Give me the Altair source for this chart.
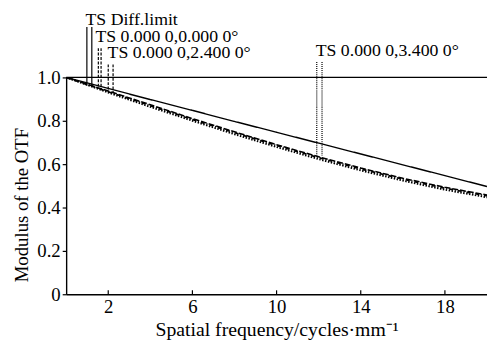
import altair as alt
import pandas as pd

# ---- data ----
freq = [0, 2, 4, 6, 8, 10, 12, 14, 16, 18, 20]
diff_limit = [1.0, 0.949, 0.898, 0.848, 0.797, 0.747, 0.697, 0.647, 0.597, 0.547, 0.497]
field_0 = [1.0, 0.937, 0.874, 0.810, 0.749, 0.690, 0.634, 0.582, 0.535, 0.493, 0.458]
field_24 = [1.0, 0.934, 0.870, 0.806, 0.745, 0.686, 0.630, 0.578, 0.531, 0.489, 0.454]
field_34 = [1.0, 0.930, 0.864, 0.800, 0.738, 0.679, 0.623, 0.571, 0.524, 0.482, 0.447]

series_names = ["TS Diff.limit", "TS 0.000 0,0.000 0°", "TS 0.000 0,2.400 0°", "TS 0.000 0,3.400 0°"]
label_x = [0.92, 1.39, 1.97, 11.86]
label_y = [1.244, 1.162, 1.089, 1.097]
leader_x1 = [0.985, 1.53, 2.0, 11.91]
leader_x2 = [1.22, 1.66, 2.23, 12.16]
leader_top = [1.233, 1.135, 1.06, 1.071]
leader_bottom = [0.962, 0.948, 0.932, 0.64]

x_ticks = [2, 6, 10, 14, 18]
y_ticks = [0, 0.2, 0.4, 0.6, 0.8, 1.0]

FONT = "Liberation Serif"
dash_range = [[1, 0], [6, 2], [4, 2, 1, 2], [1.5, 1.5]]
width_range = [1.4, 1.9, 1.9, 1.6]

rows = []
for name, vals in zip(series_names, [diff_limit, field_0, field_24, field_34]):
    for f, v in zip(freq, vals):
        rows.append({"series": name, "freq": f, "mtf": v})
curves = pd.DataFrame(rows)

lead_rows = []
for i, name in enumerate(series_names):
    for xx in (leader_x1[i], leader_x2[i]):
        lead_rows.append({"series": name, "x": xx, "top": leader_top[i], "bottom": leader_bottom[i]})
leaders = pd.DataFrame(lead_rows)

labels = pd.DataFrame({"series": series_names, "x": label_x, "y": label_y})
ticks = pd.DataFrame({"x": x_ticks})

xscale = alt.Scale(domain=[0, 20], nice=False, zero=False)
yscale = alt.Scale(domain=[0, 1], nice=False)
dash = alt.StrokeDash("series:N", scale=alt.Scale(domain=series_names, range=dash_range), legend=None)

lines = alt.Chart(curves).mark_line(color="black", clip=True).encode(
    x=alt.X("freq:Q", scale=xscale,
            axis=alt.Axis(values=x_ticks, ticks=False, labelPadding=4, grid=False,
                          title="Spatial frequency/cycles·mm⁻¹", titleY=42,
                          titleBaseline="alphabetic", titleFontWeight="normal",
                          titleFontSize=20)),
    y=alt.Y("mtf:Q", scale=yscale,
            axis=alt.Axis(values=y_ticks, tickSize=4, labelPadding=2, grid=False,
                          labelExpr="datum.value == 0 ? '0' : format(datum.value, '.1f')",
                          title="Modulus of the OTF", titleX=-45, titleY=129,
                          titleAlign="center", titleBaseline="middle",
                          titleFontWeight="normal")),
    strokeDash=dash,
    strokeWidth=alt.StrokeWidth("series:N", scale=alt.Scale(domain=series_names, range=width_range),
                                legend=None),
    detail="series:N",
)

top_line = alt.Chart(pd.DataFrame({"y": [1.0]})).mark_rule(color="black", strokeWidth=1.4).encode(
    y=alt.Y("y:Q", scale=yscale), x=alt.value(0), x2=alt.value(427)
)

lead = alt.Chart(leaders).mark_rule(color="black", strokeWidth=1.2).encode(
    x=alt.X("x:Q", scale=xscale),
    y=alt.Y("top:Q", scale=yscale),
    y2="bottom:Q",
    strokeDash=alt.StrokeDash("series:N", scale=alt.Scale(domain=series_names,
                              range=[[1, 0], [3, 1.5], [3, 1.5], [1, 1]]), legend=None),
    detail="x:Q",
)

text = alt.Chart(labels).mark_text(align="left", baseline="alphabetic", font=FONT,
                                   fontSize=18, color="black").encode(
    x=alt.X("x:Q", scale=xscale), y=alt.Y("y:Q", scale=yscale), text="series:N"
)

xtick_marks = alt.Chart(ticks).mark_rule(color="black", strokeWidth=1.2).encode(
    x=alt.X("x:Q", scale=xscale), y=alt.value(220), y2=alt.value(216)
)

chart = alt.layer(lines, top_line, lead, text, xtick_marks).resolve_scale(
    strokeDash="independent"
).properties(
    width=427, height=220,
    autosize=alt.AutoSizeParams(type="none"),
    padding={"left": 59, "top": 68, "right": 0, "bottom": 46},
    background="white",
).configure_view(stroke=None).configure_axis(
    domainColor="black", domainWidth=1.4, tickColor="black", tickWidth=1.2,
    labelFont=FONT, labelFontSize=19, labelColor="black",
    titleFont=FONT, titleFontSize=19, titleColor="black",
)

chart.save("out.html", embed_options={"renderer": "svg", "actions": False})
